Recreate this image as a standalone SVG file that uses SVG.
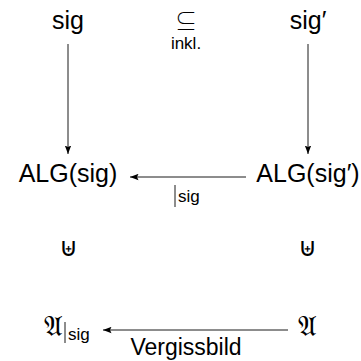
<svg xmlns="http://www.w3.org/2000/svg" width="361" height="361" viewBox="0 0 361 361">
<style>
  text { font-family: "Liberation Sans", "DejaVu Sans", sans-serif; fill: #000; }
  .n { font-size: 25px; text-anchor: middle; }
  .lbl { font-size: 17px; }
  .sym { font-family: "Noto Sans CJK JP", "Noto Sans CJK SC", "DejaVu Sans", sans-serif; font-weight: 300; text-anchor: middle; }
  .frak { font-family: "DejaVu Sans", "DejaVu Serif", serif; font-size: 28px; text-anchor: middle; }
  .edge { stroke: #000; stroke-width: 0.9; fill: none; }
</style>
<defs>
  <marker id="ah" markerWidth="9" markerHeight="7" refX="8.5" refY="3.5" orient="auto" markerUnits="userSpaceOnUse">
    <path d="M0,0.3 L8.5,3.5 L0,6.7 L1.5,3.5 z" fill="#000"/>
  </marker>
</defs>
<g id="sig"><text class="n" x="68" y="29">sig</text></g>
<g id="sigp"><text class="n" x="308" y="29">sig′</text></g>
<g id="incl">
  <text class="sym" x="186" y="29" font-size="22">⊆</text>
  <text class="lbl" x="186" y="49" text-anchor="middle">inkl.</text>
</g>
<g id="algsig"><text class="n" x="68" y="182">ALG(sig)</text></g>
<g id="algsigp"><text class="n" x="308" y="182">ALG(sig′)</text></g>
<g id="ni1"><text class="sym" x="68" y="256" font-size="26">⊎</text></g>
<g id="ni2"><text class="sym" x="307" y="256" font-size="26">⊎</text></g>
<g id="Asig">
  <text class="frak" x="53" y="336">𝔄</text>
  <line x1="65" y1="322" x2="65" y2="343" stroke="#000" stroke-width="0.9"/>
  <text class="lbl" x="68" y="340">sig</text>
</g>
<g id="A"><text class="frak" x="307" y="336">𝔄</text></g>
<g id="connectors">
  <line class="edge" x1="68" y1="44" x2="68" y2="154" marker-end="url(#ah)"/>
  <line class="edge" x1="308" y1="44" x2="308" y2="154" marker-end="url(#ah)"/>
  <line class="edge" x1="246" y1="177" x2="130" y2="177" marker-end="url(#ah)"/>
  <line class="edge" x1="288" y1="330" x2="103" y2="330" marker-end="url(#ah)"/>
  <g id="restr-label">
    <line x1="175" y1="185" x2="175" y2="207" stroke="#000" stroke-width="0.9"/>
    <text class="lbl" x="178" y="202">sig</text>
  </g>
  <text x="186" y="355" font-size="23" text-anchor="middle">Vergissbild</text>
</g>
</svg>
